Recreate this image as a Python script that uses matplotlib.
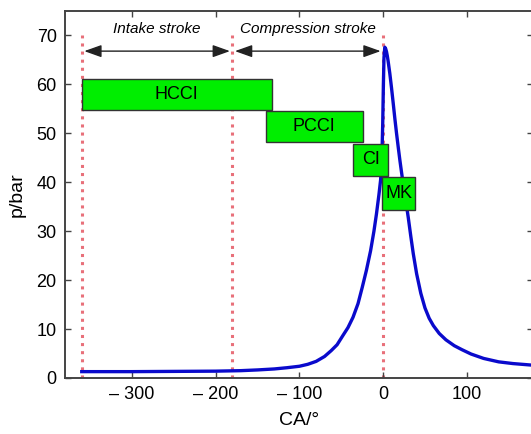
import matplotlib.pyplot as plt
from matplotlib.patches import Rectangle

plt.rcParams['font.family'] = ['Liberation Sans', 'DejaVu Sans']
plt.rcParams['font.size'] = 13

# pressure trace
ca = [-360, -300, -250, -200, -170, -150, -130, -115, -100, -90, -80, -70, -62, -55,
      -48, -42, -36, -30, -25, -20, -15, -11, -8, -5, -3, -1.5, -0.5, 0.3, 1, 2,
      3, 4, 5, 6, 8, 10, 12, 14, 16, 18, 20, 22, 24, 26, 28, 30, 33, 36, 40, 45,
      50, 55, 60, 67, 75, 85, 94, 105, 120, 138, 155, 180]
p = [1.3, 1.3, 1.35, 1.4, 1.5, 1.65, 1.85, 2.1, 2.4, 2.8, 3.4, 4.4, 5.6, 6.8,
     8.7, 10.3, 12.4, 15.2, 18.5, 22.0, 26.0, 30.0, 33.5, 37.5, 40.5, 45, 52, 60, 65.5, 67.6,
     67.3, 66.7, 65.8, 64.7, 62.2, 59.3, 56.2, 53.0, 50.0, 47.2, 44.5, 42.0, 39.6, 37.3, 35.1, 32.8, 29.0, 25.4, 21.3, 17.3,
     14.3, 12.2, 10.7, 9.1, 7.8, 6.6, 5.8, 4.9, 4.0, 3.3, 2.95, 2.6]

# combustion modes: (name, CA start, CA end, p low, p high)
modes = ['HCCI', 'PCCI', 'CI', 'MK']
mode_ca0 = [-360, -140, -36, -1]
mode_ca1 = [-133, -24.5, 6, 38]
mode_p0 = [54.8, 48.2, 41.3, 34.4]
mode_p1 = [61.2, 54.6, 47.9, 41.1]

stroke_marks = [-360, -180, 0]
stroke_names = ['Intake stroke', 'Compression stroke']

xticks = [-300, -200, -100, 0, 100]
xticklabels = ['– 300', '– 200', '– 100', '0', '100']
yticks = [0, 10, 20, 30, 40, 50, 60, 70]

fig = plt.figure(figsize=(5.31, 4.34), dpi=100)
ax = fig.add_axes([65 / 531, 56 / 434, 468 / 531, 367 / 434])

# dotted stroke boundaries
for m in stroke_marks:
    ax.plot([m, m], [0, 70], color='#e8707a', linestyle=':', linewidth=2.2, zorder=1)

ax.plot(ca, p, color='#0a0acc', linewidth=2.4, zorder=2, solid_joinstyle='round')

for name, a, b, lo, hi in zip(modes, mode_ca0, mode_ca1, mode_p0, mode_p1):
    ax.add_patch(Rectangle((a, lo), b - a, hi - lo, facecolor='#00ee00',
                           edgecolor='#333333', linewidth=1, zorder=3))
    ax.text((a + b) / 2, (lo + hi) / 2, name, ha='center', va='center',
            fontsize=13, zorder=4)

# stroke arrows
for i in range(2):
    ax.annotate('', xy=(stroke_marks[i] + 3, 66.8), xytext=(stroke_marks[i + 1] - 3, 66.8),
                arrowprops=dict(arrowstyle='<|-|>,head_length=0.7,head_width=0.25',
                                color='#222222', linewidth=1, mutation_scale=15,
                                shrinkA=0, shrinkB=0))
    ax.text((stroke_marks[i] + stroke_marks[i + 1]) / 2, 71.3, stroke_names[i],
            ha='center', va='center', style='italic', fontsize=11)

ax.set_xlim(-380, 179)
ax.set_ylim(0, 75)
ax.set_xticks(xticks)
ax.set_xticklabels(xticklabels)
ax.set_yticks(yticks)
ax.tick_params(direction='in', length=4, width=1, color='#444444',
               top=True, right=True, labelsize=13, pad=6)
for s in ax.spines.values():
    s.set_color('#444444')
    s.set_linewidth(1.4)

ax.set_xlabel('CA/°', fontsize=14, labelpad=6)
ax.set_ylabel('p/bar', fontsize=14, labelpad=8)

fig.savefig('out.png', dpi=100)
